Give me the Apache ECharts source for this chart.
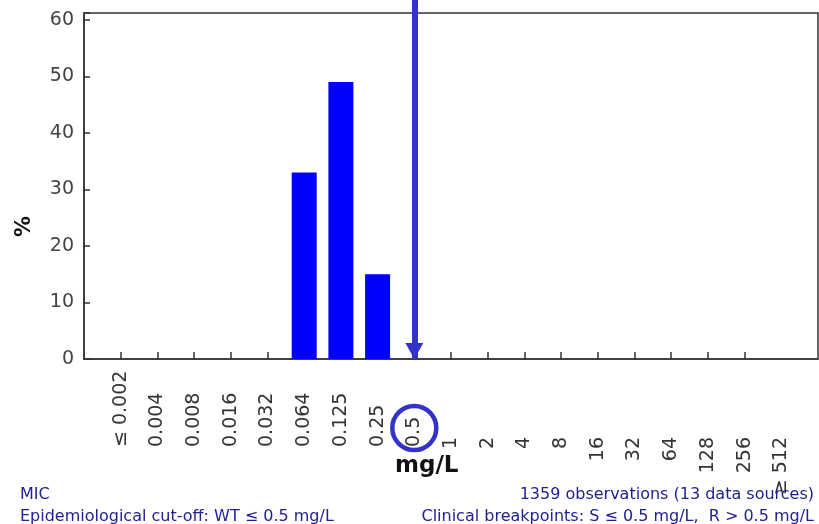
<!DOCTYPE html>
<html>
<head>
<meta charset="utf-8">
<script src="https://cdn.jsdelivr.net/npm/echarts@6/dist/echarts.min.js"></script>
<style>
  html, body { margin: 0; padding: 0; background: #fff; }
  #chart { width: 819px; height: 524px; }
</style>
</head>
<body>
<div id="chart"></div>
<script>
// MIC classes (mg/L) and share of observations (%)
const micLabels = ['≤ 0.002', '0.004', '0.008', '0.016', '0.032', '0.064', '0.125', '0.25', '0.5',
  '1', '2', '4', '8', '16', '32', '64', '128', '256', '≥ 512'];
const percents = [0, 0, 0, 0, 0, 33, 49, 15, 0, 0, 0, 0, 0, 0, 0, 0, 0, 0, 0];
const cutoffMic = '0.5';
const yMax = 61.2;
const yInterval = 10;

const footLeft = ['MIC', 'Epidemiological cut-off: WT ≤ 0.5 mg/L'];
const footRight = ['1359 observations (13 data sources)', 'Clinical breakpoints: S ≤ 0.5 mg/L,  R > 0.5 mg/L'];

// pad one empty slot at each end so the classes sit one step in from the frame
const categories = [''].concat(micLabels, ['']);
const values = [null].concat(percents, [null]);
const cutoffIndex = categories.indexOf(cutoffMic);
const lastIndex = categories.length - 1;

const blue = '#3333cc';
const textBlue = '#22228f';
const footStyle = {color: textBlue, fontSize: 16, fontWeight: 'normal', fontFamily: 'DejaVu Sans'};

const chart = echarts.init(document.getElementById('chart'));

const option = {
  backgroundColor: '#fff',
  animation: false,
  title: [
    {left: 15, top: 482, text: footLeft[0], textStyle: footStyle},
    {left: 15, top: 504, text: footLeft[1], textStyle: footStyle},
    {right: 0, top: 482, text: footRight[0], textStyle: footStyle},
    {right: 0, top: 504, text: footRight[1], textStyle: footStyle}
  ],
  grid: {
    left: 84,
    right: 1,
    top: 13,
    bottom: 165,
    show: true,
    borderColor: '#333',
    borderWidth: 1.5,
    backgroundColor: '#fff'
  },
  xAxis: [{
    type: 'category',
    data: categories,
    boundaryGap: false,
    axisLine: {lineStyle: {color: '#333', width: 1.5}},
    axisTick: {
      inside: true,
      length: 7,
      lineStyle: {color: '#333', width: 1.5},
      interval: function (i) { return i >= 1 && i <= lastIndex - 2; }
    },
    axisLabel: {
      rotate: 90,
      margin: 78,
      color: '#333',
      fontSize: 19,
      fontFamily: 'DejaVu Sans',
      interval: function (i) { return i > cutoffIndex && i < lastIndex; }
    },
    splitLine: {show: false}
  }, {
    // second label row: small classes anchored from below
    type: 'category',
    position: 'bottom',
    data: categories,
    boundaryGap: false,
    axisLine: {show: false},
    axisTick: {show: false},
    axisLabel: {
      rotate: 90,
      margin: 88,
      align: 'left',
      verticalAlign: 'middle',
      color: '#333',
      fontSize: 19,
      fontFamily: 'DejaVu Sans',
      interval: function (i) { return i >= 1 && i <= cutoffIndex; }
    },
    splitLine: {show: false}
  }],
  yAxis: {
    type: 'value',
    min: 0,
    max: yMax,
    interval: yInterval,
    axisLine: {show: true, lineStyle: {color: '#333', width: 1.5}},
    axisTick: {show: true, inside: true, length: 6, lineStyle: {color: '#333', width: 1.5}},
    axisLabel: {
      margin: 10,
      color: '#444',
      fontSize: 19,
      fontFamily: 'DejaVu Sans',
      formatter: function (v) { return v % yInterval === 0 ? String(v) : ''; }
    },
    splitLine: {show: false}
  },
  series: [{
    type: 'bar',
    xAxisIndex: 0,
    data: values,
    barWidth: 25,
    itemStyle: {color: '#0000ff'}
  }]
};

chart.setOption(option);

// cut-off arrow from the top edge down to the 0.5 class, and a ring round its label
const cx = chart.convertToPixel({xAxisIndex: 0}, cutoffIndex);
chart.setOption({
  graphic: [
    {type: 'text', left: 14, top: 216, rotation: Math.PI / 2,
      style: {text: '%', fill: '#111', font: 'bold 21px DejaVu Sans'}},
    {type: 'text', left: 395, top: 455,
      style: {text: 'mg/L', fill: '#111', font: 'bold 23px DejaVu Sans'}},
    {type: 'circle', shape: {cx: cx, cy: 428, r: 22},
      style: {fill: 'none', stroke: blue, lineWidth: 4.5}, z: 10}
  ],
  series: [{
    markLine: {
      silent: true,
      animation: false,
      symbol: ['none', 'triangle'],
      symbolSize: [18, 16],
      symbolOffset: [[0, 0], [0, 8]],
      label: {show: false},
      lineStyle: {color: blue, width: 6, type: 'solid', opacity: 1},
      data: [[{x: cx, y: 0}, {coord: [cutoffIndex, 0]}]]
    }
  }]
});

window.addEventListener('resize', function () {
  chart.resize();
});
</script>
</body>
</html>
